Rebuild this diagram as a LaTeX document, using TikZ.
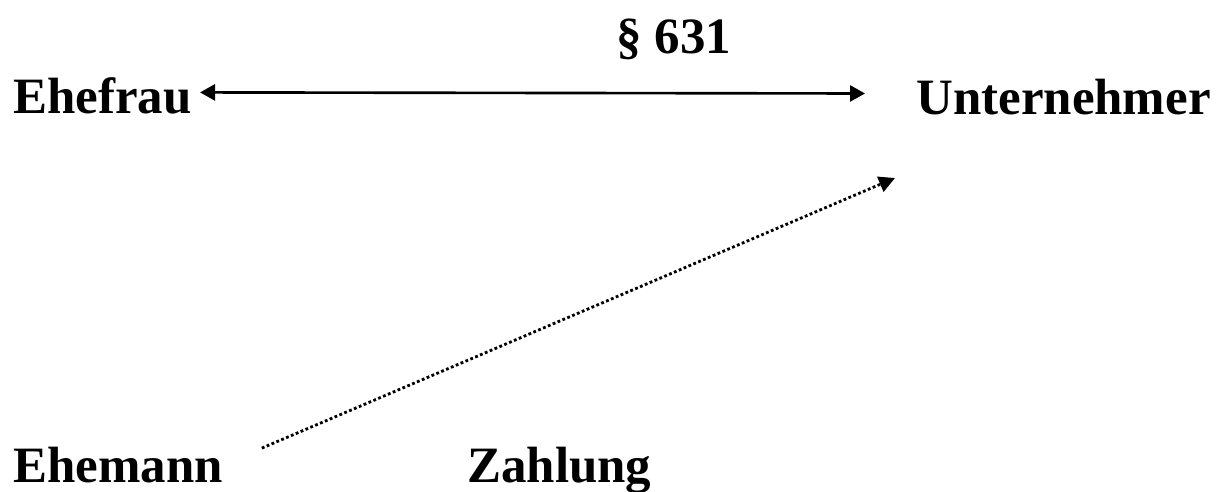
\documentclass[tikz,border=0pt]{standalone}
\usepackage{fontspec}
\setmainfont{Liberation Serif}
\usetikzlibrary{arrows.meta}

\begin{document}
\begin{tikzpicture}[x=0.02cm, y=-0.02cm,
    partei/.style={inner sep=0pt, anchor=base west, font=\fontsize{29}{34}\selectfont\bfseries},
    pfeil/.style={line width=1.5pt, {Triangle[length=0.3cm,width=0.32cm]}-{Triangle[length=0.3cm,width=0.32cm]}},
    zahlpfeil/.style={line width=1.6pt, dash pattern=on 1.6pt off 1.4pt, -{Triangle[length=0.32cm,width=0.32cm]}}]
    \useasboundingbox (0,0) rectangle (1227,491);

    % Vertrag zwischen Ehefrau und Unternehmer
    \node[partei] (ehefrau) at (13,113) {Ehefrau};
    \node[partei] (unternehmer) at (916,114) {Unternehmer};
    \node[partei] (para) at (616,53) {§ 631};

    \draw[pfeil, shorten <=0.16cm, shorten >=1.02cm]
      ([yshift=0.06cm]ehefrau.east) -- ([yshift=0.06cm]unternehmer.west);

    % Zahlung durch den Ehemann
    \node[partei] (ehemann) at (13,482) {Ehemann};
    \node[partei] (zahlung) at (467,482) {Zahlung};
    \coordinate (ziel) at (895,178);

    \draw[zahlpfeil, shorten <=0.84cm] (ehemann.east) -- (ziel);
  \end{tikzpicture}
\end{document}
